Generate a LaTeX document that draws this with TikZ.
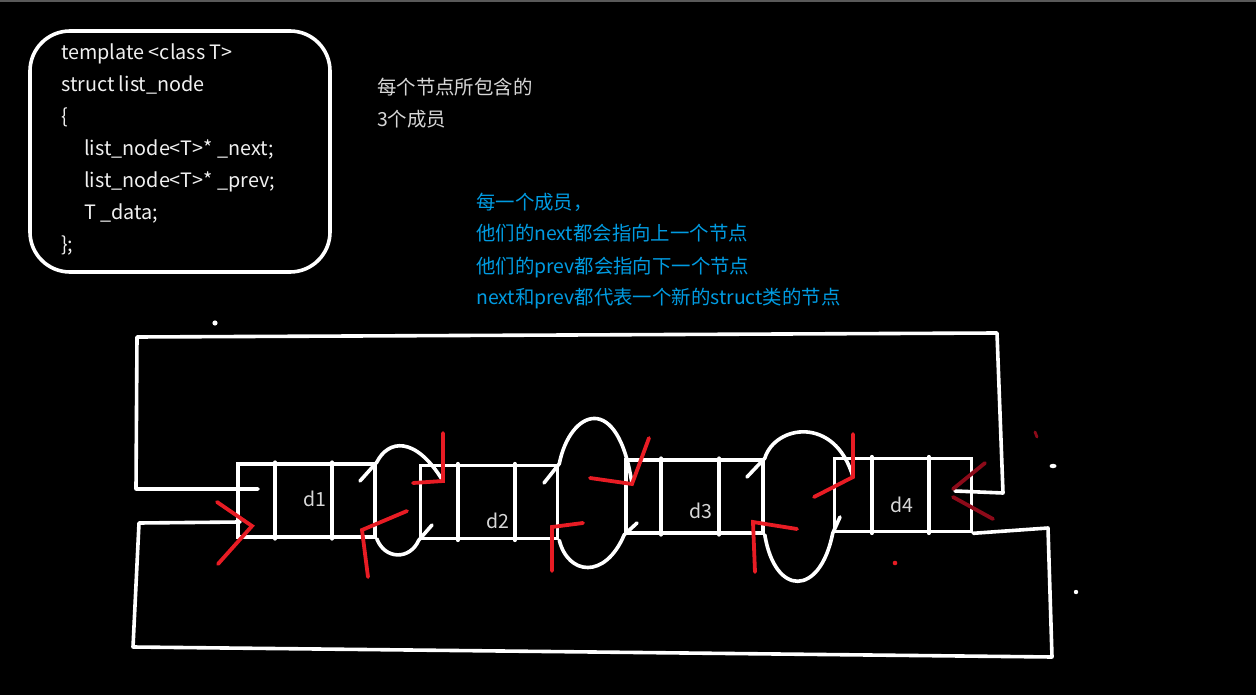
\documentclass[tikz,border=0pt]{standalone}
\usepackage{fontspec}
\setmainfont{Noto Sans CJK SC}
\usetikzlibrary{calc}
\definecolor{codewhite}{RGB}{240,240,240}
\definecolor{notegray}{RGB}{215,215,215}
\definecolor{noteblue}{RGB}{0,155,225}
\definecolor{penred}{RGB}{232,28,36}
\definecolor{darkpen}{RGB}{140,10,25}
\tikzset{
  wline/.style={draw=white,line width=3.6pt,line cap=round,line join=round},
  rline/.style={draw=penred,line width=3.8pt,line cap=round,line join=miter},
  dline/.style={draw=darkpen,line width=3.8pt,line cap=round},
  cell/.style={draw=white,line width=3.6pt,minimum width=137pt,minimum height=73pt,inner sep=0pt},
  codetxt/.style={anchor=base west,text=codewhite,font=\fontsize{19.8}{21}\selectfont,inner sep=0pt},
  graytxt/.style={anchor=base west,text=notegray,font=\fontsize{19.4}{21}\selectfont,inner sep=0pt},
  bluetxt/.style={anchor=base west,text=noteblue,font=\fontsize{19.4}{21}\selectfont,inner sep=0pt},
  dlabel/.style={text=notegray,font=\fontsize{19.5}{21}\selectfont,inner sep=0pt},
}
\begin{document}
\begin{tikzpicture}[x=1pt,y=-1pt]
\fill[black] (0,0) rectangle (1256,695);
\useasboundingbox (0,0) rectangle (1256,695);
\draw[draw=black!65!white,line width=2pt] (0,1.5) -- (1256,1.5);
% code box
\draw[wline,rounded corners=40pt] (30,31) rectangle (330,272);
\node[codetxt] (c1) at (61,60) {template <class T>};
\node[codetxt] (c2) at (61,92) {struct list\_node};
\node[codetxt] (c3) at (61,124) {\{};
\node[codetxt] (c4) at (84,156) {list\_node<T>* \_next;};
\node[codetxt] (c5) at (84,188) {list\_node<T>* \_prev;};
\node[codetxt] (c6) at (84,220) {T \_data;};
\node[codetxt] (c7) at (61,252) {\};};
% notes
\node[graytxt] (g1) at (377,95) {每个节点所包含的};
\node[graytxt] (g2) at (377,127) {3个成员};
\node[bluetxt] (b1) at (476,210) {每一个成员，};
\node[bluetxt] (b2) at (476,241) {他们的next都会指向上一个节点};
\node[bluetxt] (b3) at (476,273) {他们的prev都会指向下一个节点};
\node[bluetxt] (b4) at (476,305) {next和prev都代表一个新的struct类的节点};
% list nodes
\node[cell] (n1) at (306.5,500.5) {};
\node[cell] (n2) at (489,502) {};
\node[cell] (n3) at (694.5,496.5) {};
\node[cell] (n4) at (903,495) {};
\foreach \n/\a/\b in {n1/39/96, n2/39/96, n3/37/95, n4/39/96}{
  \draw[wline] ($(\n.north west)+(\a,0)$) -- ($(\n.south west)+(\a,0)$);
  \draw[wline] ($(\n.north west)+(\b,0)$) -- ($(\n.south west)+(\b,0)$);
}
\node[dlabel] (l1) at (315,499) {d1};
\node[dlabel] (l2) at (498,521) {d2};
\node[dlabel] (l3) at (701,511) {d3};
\node[dlabel] (l4) at (902,505) {d4};
% outer frame
\coordinate (ta) at (258,489);
\coordinate (tb) at (136,489);
\coordinate (tc) at (137,337);
\coordinate (td) at (997,333);
\coordinate (te) at (1003,493);
\coordinate (tf) at (955,491);
\draw[wline] (ta) -- (tb) -- (tc) -- (td) -- (te) -- (tf);
\coordinate (ba) at (240,522);
\coordinate (bb) at (139,523);
\coordinate (bc) at (133,647);
\coordinate (bd) at (1052,657);
\coordinate (be) at (1048,528);
\draw[wline] (ba) -- (bb) -- (bc) -- (bd) -- (be) -- (n4.south east);
% loops between nodes
\draw[wline] (360,481) -- (n1.north east) .. controls (388,440) and (415,435) .. (443,481);
\draw[wline] (n1.south east) .. controls (385,560) and (410,560) .. (n2.south west) -- (432,525);
\draw[wline] (544,483) -- (n2.north east) .. controls (570,410) and (618,390) .. (632,484);
\draw[wline] (n2.south east) .. controls (568,575) and (605,580) .. (n3.south west) -- (637,523);
\draw[wline] (747,477) -- (n3.north east) .. controls (775,425) and (835,415) .. (853,477);
\draw[wline] (n3.south east) .. controls (775,597) and (820,597) .. (n4.south west) -- (840,517);
% red arrowheads
\draw[rline] (217,502) -- (252,526) -- (218,564);
\draw[rline] (443,433) -- (443,481) -- (413,483);
\draw[rline] (407,511) -- (362,530) -- (368,577);
\draw[rline] (649,438) -- (632,484) -- (590,478);
\draw[rline] (583,523) -- (552,527) -- (552,571);
\draw[rline] (853,434) -- (853,477) -- (814,497);
\draw[rline] (797,529) -- (753,522) -- (755,572);
\draw[dline] (953,489) -- (985,463);
\draw[dline] (953,497) -- (993,519);
% stray marks
\fill[white] (215,323) circle (2.6pt);
\fill[white] (1053,466) ellipse (3.5pt and 2.2pt);
\fill[white] (1076,592) circle (2.2pt);
\draw[dline,line width=2.8pt] (1035,432) -- (1037,437);
\fill[penred] (895,563) circle (2.3pt);
\end{tikzpicture}
\end{document}
